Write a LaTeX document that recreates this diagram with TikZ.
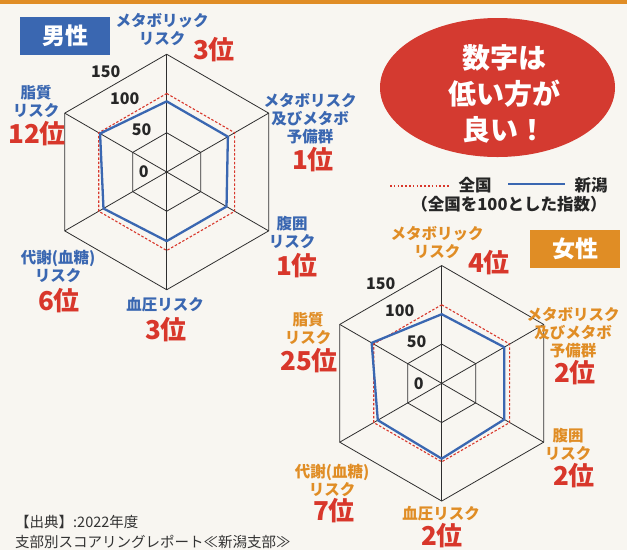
\documentclass[tikz,border=0pt]{standalone}
\usepackage{fontspec}
\setmainfont{Noto Sans CJK JP}
\definecolor{danblue}{HTML}{3A67B1}
\definecolor{joorange}{HTML}{E08D25}
\definecolor{rankred}{HTML}{D8372B}
\definecolor{bubblered}{HTML}{D43A30}
\definecolor{paper}{HTML}{F8F6F1}
\definecolor{gridgray}{HTML}{2E2E2E}
\tikzset{
  grid line/.style={gridgray, line width=0.8pt},
  zenkoku/.style={rankred, line width=1.1pt, dash pattern=on 2.5pt off 1.8pt},
  niigata/.style={danblue, line width=2.3pt, line join=round},
  ticklab/.style={text=black!85, font=\bfseries\fontsize{16}{16}\selectfont, inner sep=0pt},
  dan label/.style={text=danblue, font=\bfseries\fontsize{15.5}{18}\selectfont, align=center, inner sep=0pt},
  jo label/.style={dan label, text=joorange},
  juni/.style={text=rankred, font=\bfseries\fontsize{26}{26}\selectfont, inner sep=0pt},
  sexbox/.style={text=white, font=\bfseries\fontsize{23}{23}\selectfont, minimum width=90pt, minimum height=38pt, inner sep=0pt},
  legend/.style={text=black!85, font=\bfseries\fontsize{16.5}{18}\selectfont, inner sep=0pt},
  source/.style={text=black!80, font=\fontsize{14.5}{20}\selectfont, inner sep=0pt, anchor=west}
}
\begin{document}
\begin{tikzpicture}[x=1pt,y=-1pt]
\useasboundingbox (0,0) rectangle (627,550);
\fill[paper] (0,0) rectangle (627,550);
\fill[joorange] (0,0) rectangle (627,3.5);
% two hexagon charts: men left, women right
\foreach \k/\cx/\cy/\va/\vb/\vc/\vd/\ve/\vf in {m/166.7/172/90/90/88/88/93/98, f/441.7/383.3/88/92/92/96/94/103} {
  \begin{scope}[shift={(\cx,\cy)}]
    \begin{scope}[scale=0.785]
      \foreach \r in {50,150}
        \draw[grid line] (-90:\r) -- (-30:\r) -- (30:\r) -- (90:\r) -- (150:\r) -- (210:\r) -- cycle;
      \foreach \a in {-90,-30,...,210}
        \draw[grid line] (0,0) -- (\a:150);
      \draw[zenkoku] (-90:100) -- (-30:100) -- (30:100) -- (90:100) -- (150:100) -- (210:100) -- cycle;
      \draw[niigata] (-90:\va) -- (-30:\vb) -- (30:\vc) -- (90:\vd) -- (150:\ve) -- (210:\vf) -- cycle;
    \end{scope}
    \node[ticklab] (\k150) at (-61,-100) {150};
    \node[ticklab] (\k100) at (-42,-73) {100};
    \node[ticklab] (\k50) at (-25,-42) {50};
    \node[ticklab] (\k0) at (-23,0) {0};
  \end{scope}
}
% men
\node[sexbox, fill=danblue] (danbox) at (65,36) {男性};
\node[dan label] (mMetabo) at (162,30) {メタボリック\\リスク};
\node[juni] (mMetaboJ) at (214,50) {3位};
\node[dan label] (mYobi) at (310,118.5) {メタボリスク\\及びメタボ\\予備群};
\node[juni] (mYobiJ) at (313,160) {1位};
\node[dan label] (mFukui) at (292,232) {腹囲\\リスク};
\node[juni] (mFukuiJ) at (297,266) {1位};
\node[dan label] (mKetsuatsu) at (165,305) {血圧リスク};
\node[juni] (mKetsuatsuJ) at (166,330) {3位};
\node[dan label] (mTaisha) at (58,266) {代謝(血糖)\\リスク};
\node[juni] (mTaishaJ) at (59,301) {6位};
\node[dan label] (mShishitsu) at (36,101) {脂質\\リスク};
\node[juni] (mShishitsuJ) at (37,134) {12位};
% women
\node[sexbox, fill=joorange] (jobox) at (575,249) {女性};
\node[jo label] (fMetabo) at (437,243) {メタボリック\\リスク};
\node[juni] (fMetaboJ) at (489,263) {4位};
\node[jo label] (fYobi) at (573,333) {メタボリスク\\及びメタボ\\予備群};
\node[juni] (fYobiJ) at (575,373) {2位};
\node[jo label] (fFukui) at (568,444) {腹囲\\リスク};
\node[juni] (fFukuiJ) at (574,476) {2位};
\node[jo label] (fKetsuatsu) at (441,514) {血圧リスク};
\node[juni] (fKetsuatsuJ) at (442,536) {2位};
\node[jo label] (fTaisha) at (332,480) {代謝(血糖)\\リスク};
\node[juni] (fTaishaJ) at (334,511) {7位};
\node[jo label] (fShishitsu) at (308,328) {脂質\\リスク};
\node[juni] (fShishitsuJ) at (309,361) {25位};
% bubble and legend
\fill[bubblered] (497.5,87.5) ellipse [x radius=117.5, y radius=69.5];
\node[text=white, font=\bfseries\fontsize{28}{36}\selectfont, align=center, inner sep=0pt] (motto) at (504,94) {数字は\\低い方が\\良い！};
\coordinate (zk0) at (390,186);
\coordinate (zk1) at (450,186);
\coordinate (ng0) at (508,184);
\coordinate (ng1) at (565,184);
\draw[rankred, line width=1.3pt, dash pattern=on 1.6pt off 2.2pt] (zk0) -- (zk1);
\draw[danblue, line width=1.6pt] (ng0) -- (ng1);
\node[legend] (zkText) at (475,185) {全国};
\node[legend] (ngText) at (591,185) {新潟};
\node[legend] (note) at (509,204) {（全国を100とした指数）};
% source
\node[source] (src1) at (15,521.5) {【出典】:2022年度};
\node[source] (src2) at (15,541.5) {支部別スコアリングレポート≪新潟支部≫};
\end{tikzpicture}
\end{document}
